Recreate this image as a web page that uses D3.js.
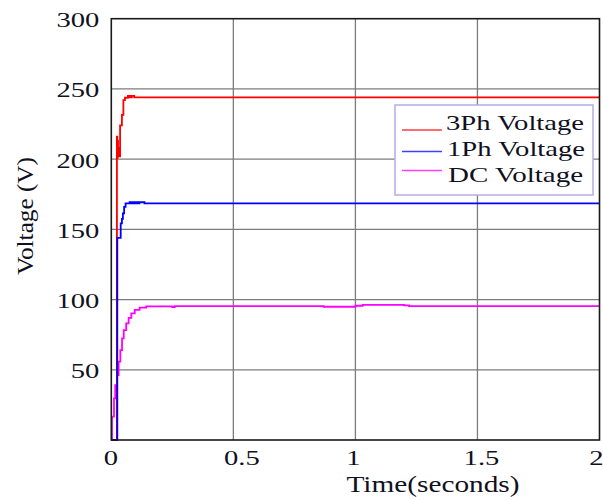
<!DOCTYPE html>
<html>
<head>
<meta charset="utf-8">
<script src="https://cdn.jsdelivr.net/npm/d3@7"></script>
<style>
  html, body { margin: 0; padding: 0; background: #fff; }
  svg { display: block; }
  text { font-family: "Liberation Serif", "Times New Roman", Times, serif; fill: #10101e; }
</style>
</head>
<body>
<svg id="chart" width="603" height="500"></svg>
<script>
// ---- data ----
const xTicks = [0, 0.5, 1, 1.5, 2];
const xTickLabels = ["0", "0.5", "1", "1.5", "2"];
const yTicks = [50, 100, 150, 200, 250, 300];
const yTickLabels = ["50", "100", "150", "200", "250", "300"];

const seriesNames = ["3Ph Voltage", "1Ph Voltage", "DC Voltage"];
const seriesColors = ["#ff0000", "#0000ff", "#ff00ff"];

// 3-phase voltage (time s, volts)
const t3ph = [0, 0.023, 0.0245, 0.026, 0.0275, 0.029, 0.031, 0.036, 0.0435, 0.0495, 0.056, 0.068, 0.074, 0.076, 0.082, 0.084, 0.094, 2];
const v3ph = [0, 216, 201, 213, 202, 208, 202, 224, 231.5, 242, 243.7, 245, 244, 245, 244, 245, 244, 244];

// 1-phase voltage
const t1ph = [0, 0.0246, 0.0385, 0.0435, 0.0475, 0.0525, 0.0585, 0.075, 0.08, 0.085, 0.09, 0.095, 0.1, 0.105, 0.11, 0.115, 0.136, 2];
const v1ph = [0, 144, 154.3, 157.4, 161.4, 166, 168.5, 169.3, 168.5, 169.3, 168.5, 169.3, 168.5, 169.3, 168.5, 169.3, 168.5, 168.5];

// DC voltage
const tdc = [0, 0.003, 0.011, 0.016, 0.023, 0.030, 0.037, 0.044, 0.051, 0.061, 0.071, 0.082, 0.096, 0.116, 0.143, 0.25, 0.26, 0.87, 1.0, 1.03, 1.2, 1.22, 2];
const vdc = [0, 16.6, 29.7, 39, 46.3, 55.8, 64, 72.4, 78.3, 83, 87, 90.2, 92.6, 94.2, 95.2, 94.7, 95.4, 94.9, 95.6, 96.2, 95.8, 95.4, 95.4];

// ---- layout ----
const svg = d3.select("#chart");
const L = 111.3, R = 599.5, T = 18.7, B = 440;
const x = d3.scaleLinear().domain([0, 2]).range([L, R]);
const y = d3.scaleLinear().domain([0, 300]).range([B, T]);
const xLabelShift = [-1, 8, -2.5, 3.5, -3.5];

// grid lines
const grid = svg.append("g");
grid.selectAll("line.h").data(yTicks.filter(v => v > 0 && v < 300)).join("line")
  .attr("x1", L).attr("x2", R)
  .attr("y1", d => y(d)).attr("y2", d => y(d))
  .attr("stroke", "#7c7c7c").attr("stroke-width", 1.3);
grid.selectAll("line.v").data(xTicks.filter(v => v > 0 && v < 2)).join("line")
  .attr("y1", T).attr("y2", B)
  .attr("x1", d => x(d)).attr("x2", d => x(d))
  .attr("stroke", "#7c7c7c").attr("stroke-width", 1.3);

// axes (labels only, via d3 axes)
const yAxis = svg.append("g").attr("transform", `translate(${L},0)`)
  .call(d3.axisLeft(y).tickValues(yTicks).tickFormat((d, i) => yTickLabels[i]).tickSize(0));
yAxis.select(".domain").remove();
yAxis.attr("font-family", null);
yAxis.selectAll("text")
  .attr("x", null).attr("dy", null)
  .attr("text-anchor", "end")
  .attr("transform", "translate(-12,8) scale(1.3,1)")
  .style("font-size", "22px")
  .attr("fill", "#10101e");

const xAxis = svg.append("g").attr("transform", `translate(0,${B})`)
  .call(d3.axisBottom(x).tickValues(xTicks).tickFormat((d, i) => xTickLabels[i]).tickSize(0));
xAxis.select(".domain").remove();
xAxis.attr("font-family", null);
xAxis.selectAll("text")
  .attr("y", null).attr("dy", null)
  .attr("text-anchor", "middle")
  .attr("transform", (d, i) => `translate(${xLabelShift[i]},25) scale(1.3,1)`)
  .style("font-size", "22px")
  .attr("fill", "#10101e");

// series lines
const line = d3.line().x(d => x(d[0])).y(d => y(d[1])).curve(d3.curveStepAfter);
const dcData = tdc.map((t, i) => [t, vdc[i]]);
const p3Data = t3ph.map((t, i) => [t, v3ph[i]]);
const p1Data = t1ph.map((t, i) => [t, v1ph[i]]);
[[dcData, seriesColors[2]], [p3Data, seriesColors[0]], [p1Data, seriesColors[1]]].forEach(([data, c]) => {
  svg.append("path").datum(data)
    .attr("d", line)
    .attr("fill", "none")
    .attr("stroke", c)
    .attr("stroke-width", 1.8);
});

// frame
svg.append("rect")
  .attr("x", L).attr("y", T).attr("width", R - L).attr("height", B - T)
  .attr("fill", "none").attr("stroke", "#1a1a1a").attr("stroke-width", 1.6);

// legend
const lg = svg.append("g");
lg.append("rect").attr("x", 395).attr("y", 105).attr("width", 198).attr("height", 90)
  .attr("fill", "#fff").attr("stroke", "#b4ace6").attr("stroke-width", 1.5);
const lineYs = [130, 151.5, 170.5];
const textYs = [129.5, 156, 182];
const textXs = [446, 447, 448];
const textWs = [138, 138, 135];
seriesNames.forEach((n, i) => {
  lg.append("line").attr("x1", 402).attr("x2", 442)
    .attr("y1", lineYs[i]).attr("y2", lineYs[i])
    .attr("stroke", seriesColors[i]).attr("stroke-width", 1.4).attr("opacity", 0.75);
  lg.append("text").attr("x", textXs[i]).attr("y", textYs[i])
    .attr("textLength", textWs[i]).attr("lengthAdjust", "spacingAndGlyphs")
    .style("font-size", "21px").text(n);
});

// axis titles
svg.append("text").attr("x", 433).attr("y", 492)
  .attr("text-anchor", "middle")
  .attr("textLength", 173).attr("lengthAdjust", "spacingAndGlyphs")
  .style("font-size", "23px").text("Time(seconds)");
svg.append("text")
  .attr("transform", "translate(32.5,216) rotate(-90)")
  .attr("text-anchor", "middle")
  .attr("textLength", 118).attr("lengthAdjust", "spacingAndGlyphs")
  .style("font-size", "23px").text("Voltage (V)");
</script>
</body>
</html>
